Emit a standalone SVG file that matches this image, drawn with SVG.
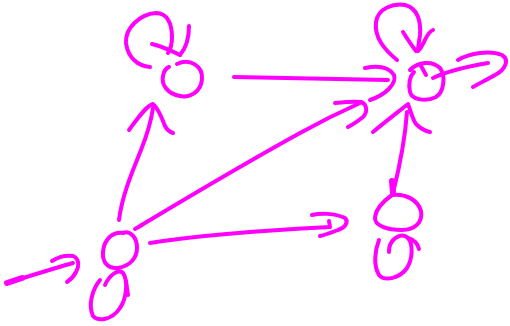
<svg xmlns="http://www.w3.org/2000/svg" width="510" height="326" viewBox="0 0 510 326">
<style>
path{fill:none;stroke:#ff00ff;stroke-width:4;stroke-linecap:round;stroke-linejoin:round}
.thick{stroke-width:6}
</style>
<rect width="510" height="326" fill="#ffffff"/>
<g id="node-a">
<path d="M 177 64 C 190 58, 203 66, 202 79 C 201 92, 190 98, 180 96 C 168 94, 161 85, 163 76 C 164 71, 166 68, 169 67"/>
<path d="M 150 67 C 138 66, 128 58, 126 43 C 125 28, 140 14, 156 13 C 168 13, 172 25, 172 37 C 172 45, 170 50, 168 53"/>
<path d="M 152 44 C 160 46, 170 50, 180 55"/>
<path d="M 189 26 C 189 38, 187 47, 180 55"/>
</g>
<g id="node-c">
<path d="M 410 70 C 418 62, 432 60, 440 68 C 446 76, 444 92, 436 97 C 426 102, 412 100, 410 92 C 408 84, 410 76, 414 72"/>
<path d="M 420 64 L 426 75"/>
<path d="M 397 60 C 385 50, 374 38, 376 22 C 378 8, 394 3, 405 5 C 418 8, 421 22, 420 35 C 419 42, 418 47, 418 50"/>
<path d="M 403 32 C 408 40, 412 46, 416 51"/>
<path d="M 433 30 C 428 32, 426 38, 424 42 C 422 46, 420 49, 418 51"/>
</g>
<g id="node-b">
<path d="M 122 233 C 130 230, 137 237, 137 248 C 137 258, 130 266, 118 268 C 108 269, 102 262, 103 252 C 104 240, 112 231, 124 233"/>
<path d="M 100 280 C 92 290, 88 305, 93 316 C 98 322, 112 320, 120 308 C 127 298, 128 280, 123 273 C 118 268, 109 276, 105 285"/>
<path d="M 126 281 L 128 295"/>
</g>
<g id="node-d">
<path d="M 392 195 C 405 193, 418 200, 421 211 C 423 222, 415 230, 402 230 C 388 230, 374 226, 375 217 C 376 208, 385 200, 392 195"/>
<path d="M 379 240 C 375 250, 373 265, 379 275 C 385 282, 400 278, 407 268 C 413 258, 413 244, 408 238 C 402 232, 393 238, 390 245 C 389 248, 389 250, 389 252"/>
<path d="M 408 238 C 414 240, 418 244, 419 249"/>
</g>
<g id="connectors">
<path d="M 119 220 C 122 195, 133 170, 141 150 S 152 115, 153 108"/>
<path d="M 129 130 C 138 118, 146 106, 153 104 C 158 108, 162 118, 165 126 C 167 130, 170 132, 173 133"/>
<path d="M 234 77 C 290 78, 340 79, 388 80"/>
<path d="M 365 68 C 375 66, 388 66, 394 75 C 397 84, 385 95, 370 100"/>
<path d="M 433 78 C 450 70, 470 66, 488 63"/>
<path d="M 458 60 C 470 53, 490 50, 502 55 C 510 60, 505 70, 495 75 C 488 79, 480 83, 473 87"/>
<path d="M 407 112 C 405 140, 400 165, 393 193"/>
<path class="thick" d="M 392 181 L 393 193"/>
<path d="M 373 132 C 385 122, 398 112, 408 104 C 411 112, 413 120, 416 124 C 420 128, 425 131, 430 132"/>
<path d="M 140 226 C 200 190, 260 155, 300 133 C 320 122, 340 112, 360 103"/>
<path d="M 135 229 L 142 225"/>
<path d="M 335 103 C 345 102, 355 101, 361 102 C 367 104, 368 112, 363 117 C 358 121, 352 125, 348 127"/>
<path d="M 150 243 C 200 235, 270 230, 330 227 L 329 221"/>
<path d="M 312 215 C 320 213, 335 213, 345 218 C 349 222, 345 228, 338 230 C 330 233, 325 235, 320 236"/>
<path d="M 7 283 C 30 276, 55 268, 73 263"/>
<path class="thick" d="M 7 283 L 22 278"/>
<path d="M 52 261 C 58 257, 66 255, 73 256 C 80 259, 79 267, 76 272 C 74 276, 70 280, 67 282"/>
</g>
</svg>
